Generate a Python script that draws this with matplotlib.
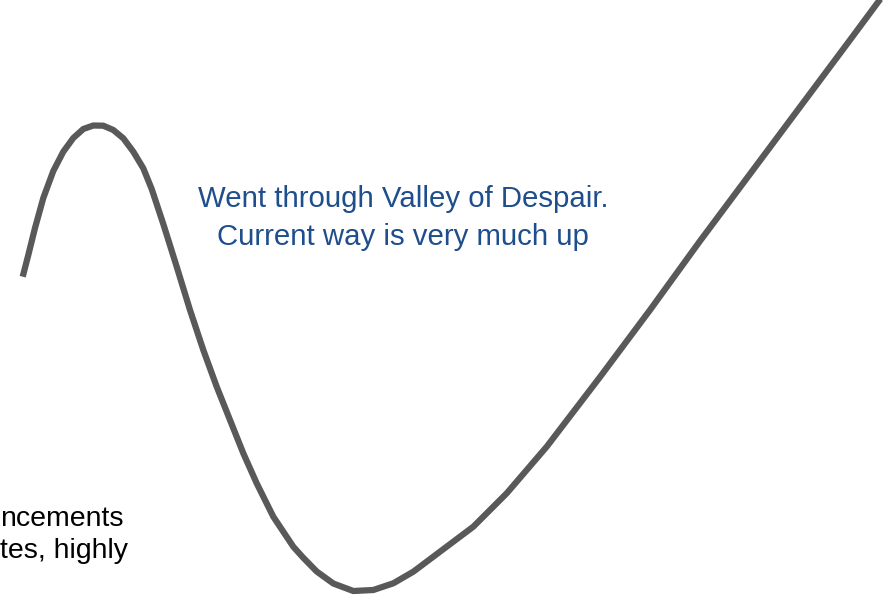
import matplotlib
matplotlib.use('Agg')
import matplotlib.pyplot as plt

# curve (pixel-like units, y grows downwards)
curve_x = [22.7, 28.3, 35, 43.3, 53.3, 63.3, 73.3, 83.3, 93.3, 103.3, 113.3,
           123.3, 133.3, 143.3, 151.7, 163.3, 176.7, 190, 203.3, 216.7, 230,
           243.3, 256.7, 273.3, 293.3, 303, 316.7, 333.3, 353.3, 373.3, 393.3,
           413.3, 433.3, 473.3, 506.7, 546.7, 600, 650, 700, 750, 800, 850, 890]
curve_y = [276.7, 255, 228, 198, 171, 151.7, 138, 129, 125.5, 125.7, 130,
           138.3, 151.7, 168.3, 189, 224, 266.7, 310, 350, 386.7, 420,
           453.3, 483.3, 516.7, 546.7, 557.5, 571.5, 583.5, 591, 590, 583.3,
           571.7, 556.7, 526.7, 493.3, 446.7, 377, 310, 241, 174, 107, 40, -14]

note_text = 'Went through Valley of Despair.\nCurrent way is very much up'
side_lines = ['ncements', 'tes, highly']

plt.rcParams['font.family'] = ['Liberation Sans', 'DejaVu Sans']

fig = plt.figure(figsize=(8.85, 6), dpi=100)
ax = fig.add_axes([0, 0, 1, 1])
ax.set_xlim(0, 885)
ax.set_ylim(600, 0)
ax.axis('off')

ax.plot(curve_x, curve_y, color='#595959', lw=4.5, solid_capstyle='butt',
        solid_joinstyle='round')

ax.text(403, 218, note_text, ha='center', va='center', fontsize=21.2,
        color='#1F4E8C', linespacing=1.42)

for i, line in enumerate(side_lines):
    ax.text(0, 519 + 32 * i, line, ha='left', va='center', fontsize=20.5,
            color='black')

fig.savefig('out.png', dpi=100)
